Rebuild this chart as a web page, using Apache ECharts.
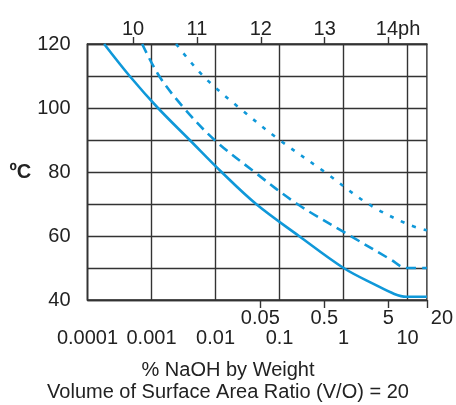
<!DOCTYPE html>
<html>
<head>
<meta charset="utf-8">
<script src="https://cdn.jsdelivr.net/npm/echarts@6/dist/echarts.min.js"></script>
<style>
  html, body { margin: 0; padding: 0; background: #fff; }
  #chart { width: 456px; height: 405px; }
</style>
</head>
<body>
<div id="chart"></div>
<script>
// % NaOH by weight vs temperature (°C), three curves
const solidX  = [0.000182, 0.000455, 0.00126, 0.00395, 0.0124, 0.043, 0.201, 1, 3.09, 6.2, 9.5, 20];
const solidY  = [120, 110, 100, 90, 80, 70, 60, 50, 44.8, 41.9, 41, 41];
const dashX   = [0.000715, 0.001315, 0.00321, 0.00966, 0.0406, 0.189, 1.29, 5.5, 9.5, 20];
const dashY   = [120, 110, 100, 90, 80, 70, 60, 52.6, 50, 50];
const dotX    = [0.00242, 0.0064, 0.0236, 0.1, 0.508, 2.44, 10, 20];
const dotY    = [120, 110, 100, 90, 80, 70, 63.7, 61.8];

const pctTicks    = [0.05, 0.5, 5, 20];                   // first row under the frame
const decadeTicks = [0.0001, 0.001, 0.01, 0.1, 1, 10];   // second row + vertical grid
const decadeLabels = ['0.0001', '0.001', '0.01', '0.1', '1', '10'];
const phTicks = [10, 11, 12, 13, 14];
const tempLabels = [40, 60, 80, 100, 120];

const BLUE = '#0f98d9', INK = '#222', GRID = '#333';
const FONT = '"Liberation Sans", Arial, sans-serif';

const zip = (xs, ys) => xs.map((x, i) => [x, ys[i]]);
const chart = echarts.init(document.getElementById('chart'), null, { renderer: 'canvas' });

chart.setOption({
  animation: false,
  backgroundColor: '#fff',
  textStyle: { fontFamily: FONT },
  title: {
    text: '% NaOH by Weight\nVolume of Surface Area Ratio (V/O) = 20',
    left: 'center', top: 354,
    textStyle: { fontFamily: FONT, fontSize: 20, fontWeight: 'normal', color: INK, lineHeight: 22 }
  },
  grid: { left: 87.5, right: 27.3, top: 44, bottom: 105, show: true,
          borderColor: GRID, borderWidth: 1.4, backgroundColor: 'transparent' },
  xAxis: [
    { type: 'log', position: 'bottom', min: 0.0001, max: 20,
      axisLine: { show: true, lineStyle: { color: GRID, width: 1.4 } },
      axisTick: { show: true, length: 8, customValues: pctTicks, lineStyle: { color: GRID, width: 1.4 } },
      axisLabel: { customValues: pctTicks, margin: 8, color: INK, fontSize: 20, fontFamily: FONT,
        formatter: v => v === 20 ? '{s|}20' : String(v),
        rich: { s: { width: 30 } } },
      splitLine: { show: false } },
    { type: 'log', position: 'bottom', min: 0.0001, max: 20, offset: 20,
      axisLine: { show: false },
      axisTick: { show: false, customValues: decadeTicks },
      splitLine: { show: true, lineStyle: { color: GRID, width: 1.4 } },
      axisLabel: { customValues: decadeTicks, margin: 8, color: INK, fontSize: 20, fontFamily: FONT,
        formatter: v => decadeLabels[decadeTicks.findIndex(d => Math.abs(Math.log10(d) - Math.log10(v)) < 1e-6)] } },
    { type: 'value', position: 'top', min: 9.287, max: 14.6,
      axisLine: { show: true, lineStyle: { color: GRID, width: 1.4 } },
      axisTick: { show: true, length: 7, customValues: phTicks, lineStyle: { color: GRID, width: 1.4 } },
      axisLabel: { customValues: phTicks, margin: 5, color: INK, fontSize: 20, fontFamily: FONT,
        formatter: v => v === 14 ? '{s|}14ph' : String(v),
        rich: { s: { width: 19 } } },
      splitLine: { show: false } }
  ],
  yAxis: {
    type: 'value', min: 40, max: 120, interval: 10,
    name: 'ºC', nameLocation: 'middle', nameRotate: 0, nameGap: 52,
    nameTextStyle: { fontFamily: FONT, fontSize: 20, fontWeight: 'bold', color: INK, padding: [22, 0, 0, 0] },
    axisLine: { show: true, lineStyle: { color: GRID, width: 1.4 } },
    axisTick: { show: false },
    axisLabel: { customValues: tempLabels, margin: 17, color: INK, fontSize: 20, fontFamily: FONT },
    splitLine: { show: true, lineStyle: { color: GRID, width: 1.4 } }
  },
  series: [
    { type: 'line', data: zip(solidX, solidY), smooth: 0.35, showSymbol: false,
      lineStyle: { color: BLUE, width: 2.6 } },
    { type: 'line', data: zip(dashX, dashY), smooth: 0.35, showSymbol: false,
      lineStyle: { color: BLUE, width: 2.6, type: [10, 6] } },
    { type: 'line', data: zip(dotX, dotY), smooth: 0.35, showSymbol: false,
      lineStyle: { color: BLUE, width: 2.6, type: [4, 8] } }
  ]
});
</script>
</body>
</html>
